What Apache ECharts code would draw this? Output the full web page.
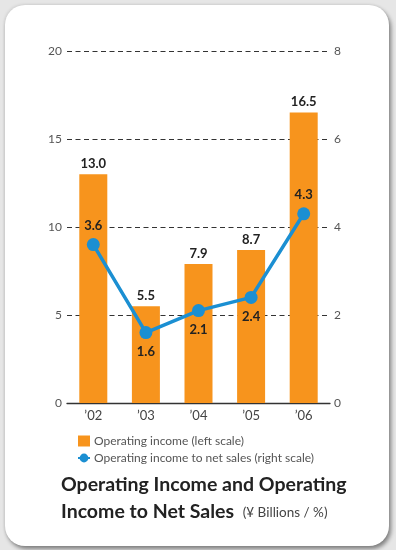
<!DOCTYPE html>
<html>
<head>
<meta charset="utf-8">
<script src="https://cdn.jsdelivr.net/npm/echarts@6/dist/echarts.min.js"></script>
<style>
  html, body { margin: 0; padding: 0; background: #e6e6e6; }
  #card {
    position: absolute; left: 5px; top: 5px; width: 384px; height: 541px;
    background: #fff; border-radius: 20px;
    box-shadow: 2px 3px 4px rgba(0,0,0,0.45), -1px -1px 3px rgba(0,0,0,0.08);
  }
  #chart { position: absolute; left: 0; top: 0; width: 396px; height: 550px; }
</style>
</head>
<body>
<div id="card"></div>
<div id="chart"></div>
<script>
// Fiscal years shown on the category axis
const years = ['\u201902', '\u201903', '\u201904', '\u201905', '\u201906'];
// Operating income, ¥ billions (left scale)
const operatingIncome = [13.0, 5.5, 7.9, 8.7, 16.5];
// Operating income to net sales, % (right scale)
const incomeToSales = [3.6, 1.6, 2.1, 2.4, 4.3];
// Where each ratio label sits relative to its point
const ratioLabelPos = ['top', 'bottom', 'bottom', 'bottom', 'top'];

const FONT = 'Lato, "Noto Sans", sans-serif';
const ORANGE = '#f7941d';
const BLUE = '#1b8fd2';

const chart = echarts.init(document.getElementById('chart'), null, { renderer: 'canvas' });

chart.setOption({
  backgroundColor: 'transparent',
  animation: false,
  textStyle: { fontFamily: FONT },
  grid: { left: 67, right: 66, top: 51, bottom: 147, containLabel: false },
  title: {
    left: 61, top: 471, padding: 0,
    text: '{b|Operating Income and Operating}\n{b|Income to Net Sales}  {s|(\u00a5 Billions / %)}',
    textStyle: {
      rich: {
        b: { fontFamily: FONT, fontWeight: 'bold', fontSize: 19.5, color: '#222', lineHeight: 27 },
        s: { fontFamily: FONT, fontWeight: 'normal', fontSize: 13.5, color: '#444', lineHeight: 27, padding: [3, 0, 0, 0] }
      }
    }
  },
  legend: {
    orient: 'vertical', left: 77, top: 435, padding: 0,
    itemGap: 5, itemWidth: 12, itemHeight: 11,
    textStyle: { fontFamily: FONT, fontSize: 12, color: '#555', padding: [0, 0, 0, -1] },
    data: [
      { name: 'Operating income (left scale)', icon: 'rect' },
      { name: 'Operating income to net sales (right scale)' }
    ]
  },
  xAxis: {
    type: 'category', data: years,
    axisLine: { lineStyle: { color: '#333', width: 1.3 } },
    axisTick: { show: false },
    axisLabel: { color: '#444', fontSize: 13, margin: 6, fontFamily: FONT }
  },
  yAxis: [
    {
      type: 'value', min: 0, max: 20, interval: 5,
      axisLine: { show: false }, axisTick: { show: false },
      axisLabel: { color: '#555', fontSize: 12, margin: 5 },
      splitLine: { lineStyle: { color: '#333', type: [5, 3.5], width: 1.2 } }
    },
    {
      type: 'value', min: 0, max: 8, interval: 2,
      axisLine: { show: false }, axisTick: { show: false },
      axisLabel: { color: '#555', fontSize: 12, margin: 4 },
      splitLine: { show: false }
    }
  ],
  series: [
    {
      name: 'Operating income (left scale)', type: 'bar',
      data: operatingIncome, barWidth: 28, yAxisIndex: 0,
      itemStyle: { color: ORANGE },
      label: {
        show: true, position: 'top', distance: 4,
        formatter: p => p.value.toFixed(1),
        fontFamily: FONT, fontWeight: 'bold', fontSize: 13, color: '#222'
      }
    },
    {
      name: 'Operating income to net sales (right scale)', type: 'line',
      data: incomeToSales.map((v, i) => ({
        value: v,
        label: { position: ratioLabelPos[i] }
      })),
      yAxisIndex: 1,
      symbol: 'circle', symbolSize: 13,
      lineStyle: { color: BLUE, width: 3.5 },
      itemStyle: { color: BLUE },
      label: {
        show: true, distance: 6,
        formatter: p => p.value.toFixed(1),
        fontFamily: FONT, fontWeight: 'bold', fontSize: 13, color: '#222'
      },
      z: 5
    }
  ]
});
</script>
</body>
</html>
